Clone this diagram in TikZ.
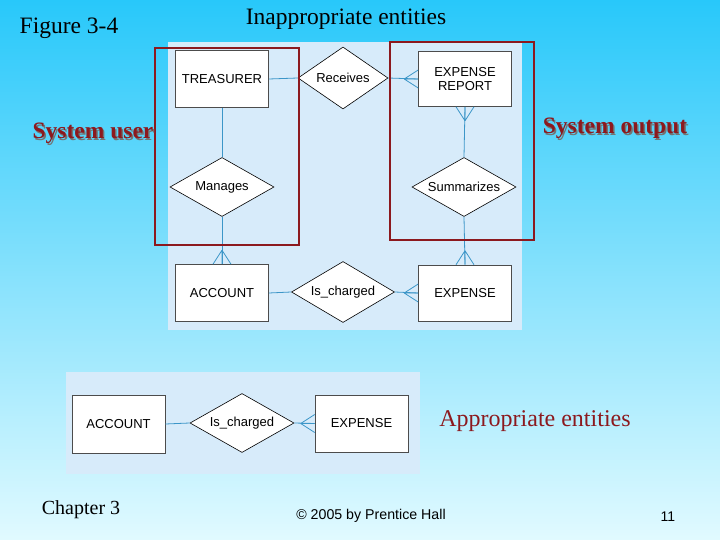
\documentclass[tikz,border=0pt]{standalone}
\usepackage{fontspec}
\setmainfont{Liberation Serif}
\setsansfont{Liberation Sans}
\usetikzlibrary{shapes.geometric,calc}
\definecolor{erline}{RGB}{60,150,200}
\definecolor{panel}{RGB}{215,235,250}
\definecolor{redbox}{RGB}{140,25,30}
\tikzset{every picture/.style={line width=0.75pt}}
\tikzset{
  entity/.style={draw=black!70,fill=white,line width=0.6pt,minimum width=93pt,minimum height=57pt,font=\sffamily\fontsize{13}{14}\selectfont,align=center,inner sep=0pt},
  relation/.style={draw=black,fill=white,line width=0.6pt,diamond,aspect=1.75,minimum width=104pt,minimum height=59pt,inner sep=0pt,font=\sffamily\fontsize{13}{14}\selectfont},
  conn/.style={draw=erline,line width=0.8pt},
  callout/.style={font=\bfseries\fontsize{23.5}{25}\selectfont,text=redbox},
  calloutshadow/.style={font=\bfseries\fontsize{23.5}{25}\selectfont,text=black!55}
}
\newcommand{\crowfoot}[3]{% #1 tip point, #2 unit direction out, #3 spread direction
  \draw[conn] ($#1+14*#2$) -- ($#1+9*#3$) ($#1+14*#2$) -- #1 ($#1+14*#2$) -- ($#1-9*#3$);}

\begin{document}
\begin{tikzpicture}[x=1pt,y=1pt,yscale=-1]
		\shade[top color={rgb,255:red,40;green,200;blue,250},bottom color={rgb,255:red,225;green,250;blue,255}] (0,0) rectangle (720,540);
		\useasboundingbox (0,0) rectangle (720,540);

		% upper panel
		\fill[panel] (168,42) rectangle (522,330);
		\node[entity] (treasurer) at (222,79) {TREASURER};
		\node[relation,minimum width=90pt,minimum height=62pt] (receives) at (343,78) {Receives};
		\node[entity,minimum height=55pt] (report) at (465,79) {EXPENSE\\REPORT};
		\node[relation] (manages) at (222,187) {Manages};
		\node[relation] (summarizes) at (464,187) {Summarizes};
		\node[entity] (account) at (222,293) {ACCOUNT};
		\node[relation,minimum width=103pt,minimum height=61pt] (charged) at (343,292) {Is\_charged};
		\node[entity,minimum height=56pt] (expense) at (465,293) {EXPENSE};

		\draw[conn] (treasurer.east) -- (receives.west);
		\draw[conn] (receives.east) -- (report.west);
		\crowfoot{(report.west)}{(-1,0)}{(0,1)}
		\draw[conn] (treasurer.south) -- (manages.north);
		\draw[conn] (manages.south) -- (account.north);
		\crowfoot{(account.north)}{(0,-1)}{(1,0)}
		\draw[conn] (report.south) -- (summarizes.north);
		\crowfoot{(report.south)}{(0,1)}{(1,0)}
		\draw[conn] (summarizes.south) -- (expense.north);
		\crowfoot{(expense.north)}{(0,-1)}{(1,0)}
		\draw[conn] (account.east) -- (charged.west);
		\draw[conn] (charged.east) -- (expense.west);
		\crowfoot{(expense.west)}{(-1,0)}{(0,1)}

		% red outlines
		\draw[redbox,line width=2pt] (155,48) rectangle (299,245);
		\draw[redbox,line width=2pt] (390,42) rectangle (534,240);

		% lower panel
		\fill[panel] (66,372) rectangle (420,474);
		\node[entity,minimum height=58pt] (account2) at (118.5,424) {ACCOUNT};
		\node[relation] (charged2) at (242,423) {Is\_charged};
		\node[entity] (expense2) at (361.5,423.5) {EXPENSE};
		\draw[conn] (account2.east) -- (charged2.west);
		\draw[conn] (charged2.east) -- (expense2.west);
		\crowfoot{(expense2.west)}{(-1,0)}{(0,1)}

		% texts
		\node[font=\fontsize{23.5}{25}\selectfont] (fig) at (69,28) {Figure 3-4};
		\node[font=\fontsize{23.5}{25}\selectfont] (inapp) at (346,19) {Inappropriate entities};
		\node[calloutshadow] at (94.5,135) {System user};
		\node[callout] (sysuser) at (93,133.5) {System user};
		\node[calloutshadow] at (616.5,130) {System output};
		\node[callout] (sysout) at (615,128.5) {System output};
		\node[font=\fontsize{24}{25}\selectfont,text=redbox] (app) at (535,421) {Appropriate entities};
		\node[font=\fontsize{20}{22}\selectfont] (chap) at (81,510) {Chapter 3};
		\node[font=\sffamily\fontsize{14.2}{15}\selectfont] (copy) at (371,516) {\textcopyright{} 2005 by Prentice Hall};
		\node[font=\sffamily\fontsize{14}{15}\selectfont] (page) at (668,517) {11};
\end{tikzpicture}
\end{document}
